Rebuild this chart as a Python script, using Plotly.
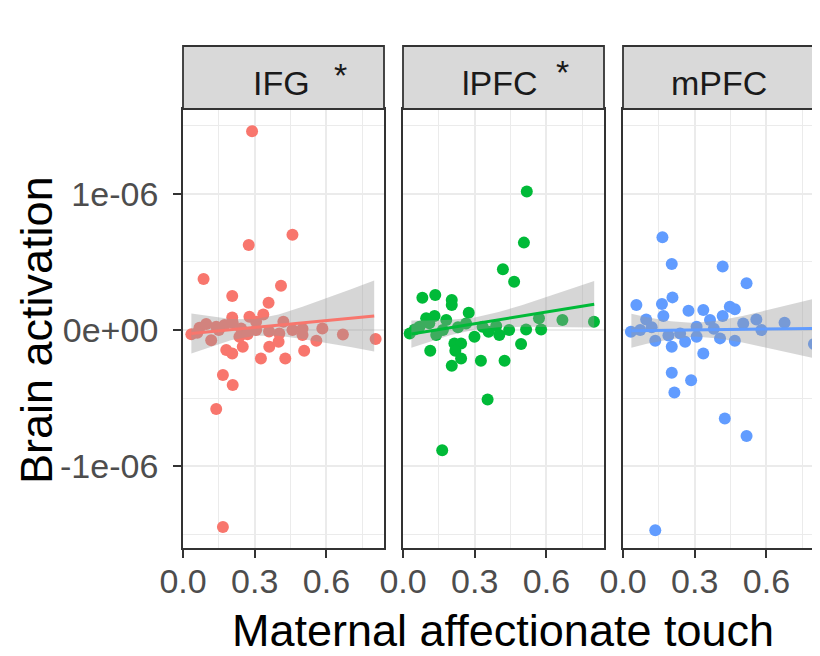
import plotly.graph_objects as go

# ---------------- data ----------------
regions = ["IFG", "lPFC", "mPFC"]
stars = ["*", "*", ""]
colors = ["#F8766D", "#00BA38", "#619CFF"]

# brain activation values are in units of 1e-06
ifg_x = [0.289, 0.458, 0.275, 0.086, 0.41, 0.206, 0.358, 0.336, 0.206, 0.278, 0.035, 0.069,
         0.097, 0.139, 0.174, 0.208, 0.243, 0.306, 0.118, 0.181, 0.206, 0.25, 0.236, 0.326,
         0.361, 0.40, 0.428, 0.42, 0.403, 0.458, 0.5, 0.507, 0.558, 0.583, 0.669, 0.806,
         0.167, 0.208, 0.139, 0.167, 0.306, 0.36, 0.15, 0.5, 0.06, 0.27]
ifg_y = [1.46, 0.70, 0.625, 0.375, 0.326, 0.25, 0.20, 0.115, 0.093, 0.098, -0.03, 0.017,
         0.044, 0.025, 0.037, 0.054, 0.012, 0.061, -0.074, -0.147, -0.172, -0.123, -0.049, -0.208,
         -0.123, -0.086, -0.208, 0.061, -0.025, 0.0, -0.037, -0.152, -0.078, 0.012, -0.032, -0.066,
         -0.33, -0.404, -0.58, -1.446, 0.0, -0.01, 0.0, 0.01, -0.02, -0.03]

lpfc_x = [0.518, 0.506, 0.418, 0.465, 0.081, 0.135, 0.204, 0.204, 0.275, 0.097, 0.132, 0.181,
          0.049, 0.028, 0.139, 0.114, 0.215, 0.243, 0.219, 0.243, 0.204, 0.326, 0.425, 0.494,
          0.515, 0.578, 0.667, 0.799, 0.354, 0.164, 0.299, 0.333, 0.403, 0.444, 0.069, 0.167,
          0.264, 0.358, 0.569, 0.11, 0.23, 0.39]
lpfc_y = [1.017, 0.642, 0.446, 0.355, 0.238, 0.257, 0.22, 0.184, 0.127, 0.086, 0.103, 0.074,
          0.005, -0.025, -0.037, -0.152, -0.098, -0.098, -0.152, -0.208, -0.262, -0.225, -0.225, -0.103,
          0.005, 0.005, 0.074, 0.061, -0.51, -0.882, -0.049, 0.025, -0.037, 0.0, 0.025, 0.0,
          0.049, -0.012, 0.086, 0.05, 0.02, 0.03]

mpfc_x = [0.165, 0.204, 0.417, 0.517, 0.056, 0.163, 0.207, 0.274, 0.336, 0.447, 0.468, 0.417,
          0.097, 0.169, 0.364, 0.558, 0.676, 0.033, 0.135, 0.204, 0.26, 0.336, 0.468, 0.579,
          0.799, 0.204, 0.285, 0.215, 0.426, 0.517, 0.135, 0.308, 0.406, 0.503, 0.239, 0.072,
          0.308, 0.12, 0.19, 0.38]
mpfc_y = [0.681, 0.485, 0.466, 0.343, 0.184, 0.191, 0.24, 0.142, 0.147, 0.172, 0.152, 0.103,
          0.078, 0.103, 0.074, 0.078, 0.054, -0.012, -0.078, -0.123, -0.086, -0.172, -0.078, 0.0,
          -0.103, -0.314, -0.368, -0.458, -0.65, -0.777, -1.47, -0.049, -0.061, 0.049, -0.025, 0.0,
          0.025, 0.02, -0.04, 0.01]

# linear fit and its confidence band, units of 1e-06
smooth_x = [0.035, 0.1, 0.2, 0.3, 0.4, 0.5, 0.6, 0.7, 0.8]
ifg_fit = [-0.025, -0.014, 0.003, 0.019, 0.036, 0.053, 0.069, 0.086, 0.103]
ifg_lo = [-0.172, -0.132, -0.075, -0.041, -0.042, -0.065, -0.094, -0.125, -0.157]
ifg_hi = [0.122, 0.104, 0.081, 0.079, 0.114, 0.171, 0.232, 0.297, 0.363]
lpfc_fit = [-0.029, -0.010, 0.019, 0.047, 0.076, 0.104, 0.133, 0.161, 0.19]
lpfc_lo = [-0.129, -0.090, -0.037, 0.002, 0.020, 0.024, 0.024, 0.021, 0.019]
lpfc_hi = [0.071, 0.070, 0.075, 0.092, 0.132, 0.184, 0.242, 0.301, 0.361]
mpfc_fit = [-0.005, -0.003, -0.001, 0.002, 0.004, 0.006, 0.008, 0.010, 0.012]
mpfc_lo = [-0.130, -0.101, -0.067, -0.048, -0.062, -0.092, -0.129, -0.167, -0.206]
mpfc_hi = [0.120, 0.095, 0.065, 0.052, 0.070, 0.104, 0.145, 0.187, 0.230]

x_tick_vals = [0.0, 0.3, 0.6]
x_tick_text = ["0.0", "0.3", "0.6"]
x_minor_vals = [0.15, 0.45, 0.75]
y_tick_vals = [-1e-06, 0.0, 1e-06]
y_tick_text = ["-1e-06", "0e+00", "1e-06"]
y_minor_vals = [-1.5e-06, -0.5e-06, 0.5e-06, 1.5e-06]

x_title = "Maternal affectionate touch"
y_title = "Brain activation"

SCALE = 1e-06
FONT = "Liberation Sans, Arial, sans-serif"

panels = [
    (ifg_x, ifg_y, ifg_fit, ifg_lo, ifg_hi),
    (lpfc_x, lpfc_y, lpfc_fit, lpfc_lo, lpfc_hi),
    (mpfc_x, mpfc_y, mpfc_fit, mpfc_lo, mpfc_hi),
]

fig = go.Figure()

for i, (px, py, fit, lo, hi) in enumerate(panels):
    xa = "x" if i == 0 else f"x{i+1}"
    ya = "y" if i == 0 else f"y{i+1}"
    fig.add_trace(go.Scatter(
        x=px, y=[v * SCALE for v in py], mode="markers", xaxis=xa, yaxis=ya,
        marker=dict(color=colors[i], size=12, line=dict(width=0)),
        showlegend=False, hoverinfo="skip"))
    band_x = smooth_x + smooth_x[::-1]
    band_y = [v * SCALE for v in hi] + [v * SCALE for v in lo[::-1]]
    fig.add_trace(go.Scatter(
        x=band_x, y=band_y, mode="lines", fill="toself", xaxis=xa, yaxis=ya,
        fillcolor="rgba(153,153,153,0.4)", line=dict(width=0),
        showlegend=False, hoverinfo="skip"))
    fig.add_trace(go.Scatter(
        x=smooth_x, y=[v * SCALE for v in fit], mode="lines", xaxis=xa, yaxis=ya,
        line=dict(color=colors[i], width=3),
        showlegend=False, hoverinfo="skip"))

# layout geometry: positions given in screen pixels; page body has an 8px margin
OFF = 8
W, H = 820 - OFF, 656 - OFF
L = 183 - OFF
T = 109 - OFF
B = H - (548 - OFF)
R = 0
pw = W - L - R
ph = H - T - B
panel_px = [(183, 384), (403, 604), (623, 820)]
px_per_unit = 239.0

def xp(p):
    return (p - OFF - L) / pw

def yp(p):
    return (H - B - (p - OFF)) / ph

layout = dict(
    width=W, height=H, margin=dict(l=L, r=R, t=T, b=B, pad=0),
    paper_bgcolor="white", plot_bgcolor="white",
    font=dict(family=FONT, color="#1A1A1A"),
)

y_range = [-1.60e-06, 1.623e-06]

for i, (a, b) in enumerate(panel_px):
    xk = "xaxis" if i == 0 else f"xaxis{i+1}"
    yk = "yaxis" if i == 0 else f"yaxis{i+1}"
    xa = "x" if i == 0 else f"x{i+1}"
    ya = "y" if i == 0 else f"y{i+1}"
    layout[xk] = dict(
        domain=[max(0, xp(a)), min(1, xp(b))], range=[0, (b - a) / px_per_unit], anchor=ya,
        tickmode="array", tickvals=x_tick_vals, ticktext=x_tick_text,
        ticks="outside", ticklen=8, tickwidth=1.5, tickcolor="#333333",
        ticklabelstandoff=-6,
        tickfont=dict(size=34, color="#4D4D4D", family=FONT),
        showgrid=True, gridcolor="#EBEBEB", gridwidth=2,
        minor=dict(tickvals=x_minor_vals, showgrid=True, gridcolor="#EBEBEB", gridwidth=1.3, ticks=""),
        zeroline=False, showline=True, linecolor="#333333", linewidth=1.8, mirror=True,
        fixedrange=True,
    )
    layout[yk] = dict(
        domain=[0, 1], range=y_range, anchor=xa,
        tickmode="array", tickvals=y_tick_vals, ticktext=y_tick_text,
        ticks="outside" if i == 0 else "", ticklen=8, tickwidth=1.5, tickcolor="#333333",
        showticklabels=(i == 0), ticklabelstandoff=8,
        tickfont=dict(size=34, color="#4D4D4D", family=FONT),
        showgrid=True, gridcolor="#EBEBEB", gridwidth=2,
        minor=dict(tickvals=y_minor_vals, showgrid=True, gridcolor="#EBEBEB", gridwidth=1.3, ticks=""),
        zeroline=False, showline=True, linecolor="#333333", linewidth=1.8,
        mirror=(i < 2), fixedrange=True,
    )

fig.update_layout(**layout)

# facet strips
strip_top = yp(46)
for i, (a, b) in enumerate(panel_px):
    x1 = b if i < 2 else b + 12
    fig.add_shape(type="rect", xref="paper", yref="paper",
                  x0=xp(a), x1=xp(x1), y0=1.0, y1=strip_top,
                  fillcolor="#D9D9D9", line=dict(color="#333333", width=1.8))

label_x = [281, 500, 719]
star_pos = [(340.5, 71.5), (562.5, 68.5), None]
for i, name in enumerate(regions):
    fig.add_annotation(x=xp(label_x[i]), y=yp(83), xref="paper", yref="paper",
                       text=name, showarrow=False, xanchor="center", yanchor="middle",
                       font=dict(size=34, color="#1A1A1A", family=FONT))
    if stars[i]:
        sx, sy = star_pos[i]
        fig.add_annotation(x=xp(sx), y=yp(sy + 3.5), xref="paper", yref="paper",
                           text=stars[i], showarrow=False, xanchor="center", yanchor="middle",
                           font=dict(size=34, color="#1A1A1A", family=FONT))

# axis titles
fig.add_annotation(x=xp(502.5), y=yp(630), xref="paper", yref="paper",
                   text=x_title, showarrow=False, xanchor="center", yanchor="middle",
                   font=dict(size=45, color="#000000", family=FONT))
fig.add_annotation(x=xp(36), y=yp(330), xref="paper", yref="paper",
                   text=y_title, textangle=-90, showarrow=False, xanchor="center", yanchor="middle",
                   font=dict(size=45, color="#000000", family=FONT))

fig.write_html("out.html")
